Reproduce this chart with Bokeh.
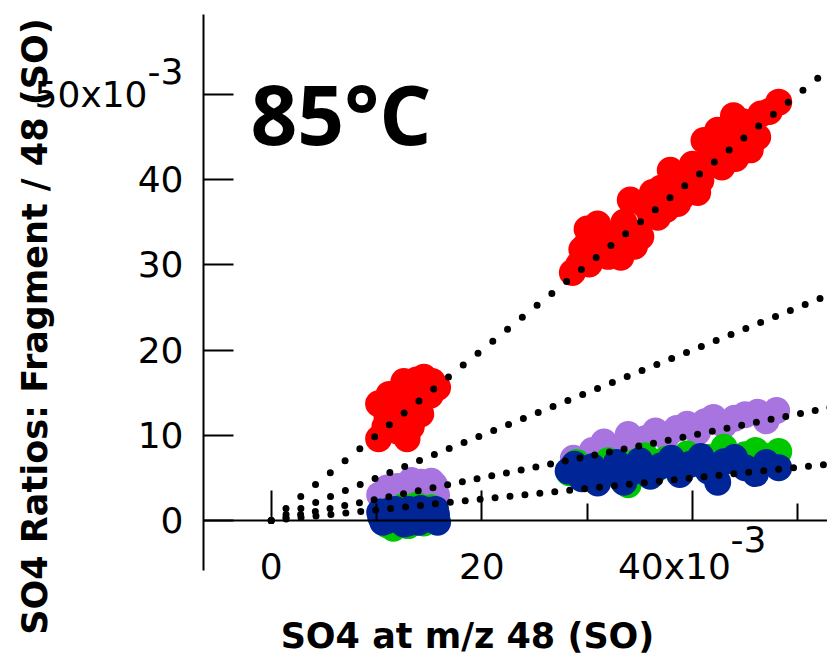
import math
from bokeh.plotting import figure
from bokeh.models import Range1d, FixedTicker, Label
from bokeh.embed import file_html
from bokeh.resources import INLINE

# ---------------- data (units of 10^-3) ----------------
RED_X = [10.2, 10.2, 11.0, 11.8, 12.3, 12.6, 12.9, 13.9, 14.5, 15.1, 15.8, 11.2, 13.3,
         11.5, 12.0, 12.8, 13.5, 14.2, 14.8, 10.8, 13.8, 15.3,
         28.6, 30.0, 30.2, 31.5, 32.5, 33.2, 34.1, 35.1, 36.0, 36.7, 37.0, 37.9, 38.6,
         39.5, 40.8, 41.1, 41.5, 42.4, 43.0, 43.9, 44.1, 45.0, 46.2, 46.5, 48.2,
         29.5, 31.0, 32.0, 33.5, 34.5, 35.5, 36.2, 37.5, 38.0, 39.0, 40.0, 40.5,
         42.0, 42.8, 43.5, 44.8, 45.5, 47.3, 30.5, 29.2, 30.0]
RED_Y = [13.7, 9.6, 12.1, 11.2, 15.3, 16.3, 9.6, 13.3, 16.8, 14.7, 15.6, 14.8, 11.0,
         13.0, 10.5, 14.0, 15.5, 12.5, 15.8, 11.0, 16.5, 16.3,
         29.1, 34.2, 30.1, 32.0, 33.5, 30.9, 37.6, 33.3, 36.0, 35.6, 39.0, 41.1, 37.2,
         40.0, 39.9, 44.6, 42.0, 45.8, 43.5, 47.5, 42.5, 44.5, 45.0, 47.7, 49.1,
         31.8, 34.8, 31.0, 35.0, 32.2, 37.0, 38.5, 36.5, 39.8, 38.0, 41.8, 38.5,
         43.5, 41.5, 45.0, 46.8, 43.5, 48.0, 32.5, 30.0, 32.5]

PURPLE_X = [10.3, 10.8, 11.5, 12.2, 12.8, 13.5, 14.2, 14.8, 15.5, 15.7, 13.0,
            11.0, 12.0, 14.0, 15.2, 13.3,
            28.7, 29.5, 30.5, 31.6, 32.5, 33.9, 34.5, 35.5, 36.5, 37.5, 38.5, 39.5,
            40.5, 41.2, 42.0, 43.0, 44.0, 45.0, 46.2, 47.0, 48.0]
PURPLE_Y = [3.0, 2.2, 3.4, 2.8, 3.9, 4.3, 4.5, 3.6, 4.2, 3.0, 2.5,
            3.8, 4.0, 3.4, 4.6, 4.7,
            7.3, 6.6, 8.2, 9.2, 8.0, 10.1, 8.8, 9.6, 10.5, 9.8, 10.8, 11.3,
            10.4, 11.6, 12.1, 11.2, 12.0, 12.4, 12.7, 11.7, 12.9]

GREEN_X = [10.5, 11.0, 11.6, 12.5, 13.0, 13.8, 14.5, 15.2, 15.6, 12.0,
           28.3, 29.0, 30.0, 31.0, 32.0, 33.0, 33.9, 34.5, 35.5, 36.5, 37.5, 38.5,
           39.5, 40.5, 41.5, 43.0, 44.0, 45.0, 46.0, 47.0, 48.2]
GREEN_Y = [1.0, -0.5, -0.9, 1.6, -0.6, 1.8, -0.3, 1.5, -0.1, 0.6,
           5.6, 6.8, 5.0, 6.2, 7.0, 5.4, 4.2, 6.8, 7.6, 6.0, 7.2, 6.5,
           7.8, 6.9, 7.4, 8.6, 7.0, 7.7, 8.2, 7.5, 8.1]

BLUE_X = [10.4, 10.6, 11.2, 11.6, 12.2, 12.6, 13.1, 13.5, 14.0, 14.5, 15.0, 15.3, 15.7, 12.0, 14.2,
          10.3, 11.0, 11.8, 12.8, 13.8, 14.8, 15.6, 13.0, 15.8,
          28.2, 28.8, 29.5, 30.5, 31.0, 32.0, 32.8, 33.5, 34.5, 35.0, 36.0, 37.0, 38.0,
          38.8, 39.8, 40.8, 41.5, 42.4, 43.0, 44.0, 45.0, 46.0, 47.0, 48.2]
BLUE_Y = [0.4, -0.2, 1.1, 0.2, 0.9, -0.4, 1.3, 0.3, -0.2, 0.9, 1.2, 0.1, 0.7, 0.4, 1.4,
          1.0, 0.0, 1.3, 0.6, 1.0, 0.3, 1.3, -0.3, -0.2,
          5.8, 6.6, 4.9, 6.3, 4.4, 5.6, 6.8, 4.5, 5.8, 7.0, 5.2, 6.4, 7.3,
          5.4, 6.6, 7.5, 5.8, 4.5, 6.9, 7.4, 6.2, 5.5, 6.8, 6.2]

FIT_SLOPES = [1.0, 0.5, 0.25, 0.125]

X_TICKS = [0, 20, 40]
X_MINOR = [10, 30, 50]
Y_TICKS = [0, 10, 20, 30, 40, 50]
X_LABELS = {0: "0", 20: "20", 40: "40x10\u2002\u2002"}
Y_LABELS = {0: "0", 10: "10", 20: "20", 30: "30", 40: "40", 50: "50x10\u2002\u2002"}
EXP_TEXT = "-3"
X_TITLE = "SO4 at m/z 48 (SO)"
Y_TITLE = "SO4 Ratios: Fragment / 48 (SO)"
TEMP_TEXT = "85\u00b0C"

# ---------------- figure (frame fills the whole canvas) ----------------
X0, X1 = -25.71, 52.83      # canvas left / right
Y0, Y1 = -16.20, 61.03      # canvas bottom / top
AX_X = -6.43                # where the y axis stands
Y_BOUNDS = (-5.87, 59.39)   # extent of the y axis line

p = figure(width=827, height=658, output_backend="svg", toolbar_location=None,
           x_range=Range1d(X0, X1), y_range=Range1d(Y0, Y1),
           min_border_left=0, min_border_right=0, min_border_top=0,
           min_border_bottom=0)
p.outline_line_color = None
p.grid.visible = False
p.background_fill_color = "white"
p.border_fill_color = "white"

TICK_FONT = "DejaVu Sans"
xa = p.xaxis[0]
xa.fixed_location = 0
xa.bounds = (AX_X, 60)
xa.ticker = FixedTicker(ticks=X_TICKS, minor_ticks=X_MINOR)
xa.major_label_overrides = X_LABELS
xa.axis_line_width = 2
xa.major_tick_line_width = 2
xa.minor_tick_line_width = 2
xa.major_tick_in = 30
xa.major_tick_out = 0
xa.minor_tick_in = 17
xa.minor_tick_out = 0
xa.major_label_standoff = 26
xa.major_label_text_font = TICK_FONT
xa.major_label_text_font_size = "36px"
xa.major_label_text_color = "black"

ya = p.yaxis[0]
ya.fixed_location = AX_X
ya.bounds = Y_BOUNDS
ya.ticker = FixedTicker(ticks=Y_TICKS, minor_ticks=[])
ya.major_label_overrides = Y_LABELS
ya.axis_line_width = 2
ya.major_tick_line_width = 2
ya.major_tick_in = 30
ya.major_tick_out = 0
ya.minor_tick_line_color = None
ya.major_label_standoff = 20
ya.major_label_text_font = TICK_FONT
ya.major_label_text_font_size = "36px"
ya.major_label_text_color = "black"

# ---------------- data points ----------------
SIZE = 27
p.scatter(PURPLE_X, PURPLE_Y, marker="circle", size=SIZE, fill_color="#A874E0", line_color=None)
p.scatter(GREEN_X, GREEN_Y, marker="circle", size=SIZE, fill_color="#00C800", line_color=None)
p.scatter(BLUE_X, BLUE_Y, marker="circle", size=SIZE, fill_color="#002596", line_color=None)
p.scatter(RED_X, RED_Y, marker="circle", size=SIZE, fill_color="#FF0000", line_color=None)

# ---------------- fit lines (dotted) ----------------
DASHES = ["0 19", "0 16", "0 15", "0 15"]
for s, d in zip(FIT_SLOPES, DASHES):
    p.line([0, 60], [0, s * 60], line_color="black", line_width=7,
           line_dash=d, line_cap="round")

# ---------------- texts ----------------
p.add_layout(Label(x=AX_X, y=50, x_offset=-20, y_offset=23, text=EXP_TEXT,
                   text_align="right", text_baseline="middle",
                   text_font=TICK_FONT, text_font_size="36px", text_color="black"))
p.add_layout(Label(x=40, y=0, x_offset=38, y_offset=-19, text=EXP_TEXT,
                   text_align="left", text_baseline="middle",
                   text_font=TICK_FONT, text_font_size="36px", text_color="black"))

p.add_layout(Label(x=18.64, y=-13.6, text=X_TITLE, text_align="center",
                   text_baseline="middle", text_font="DejaVu Sans",
                   text_font_style="bold", text_font_size="35px", text_color="black"))
p.add_layout(Label(x=-22.48, y=22.77, text=Y_TITLE, angle=math.pi / 2,
                   text_align="center", text_baseline="middle", text_font="DejaVu Sans",
                   text_font_style="bold", text_font_size="35px", text_color="black"))

p.add_layout(Label(x=-1.97, y=47.84, text=TEMP_TEXT, text_align="left",
                   text_baseline="middle", text_font="Open Sans",
                   text_font_style="bold", text_font_size="82px", text_color="black"))

open("out.html", "w").write(file_html(p, INLINE))
